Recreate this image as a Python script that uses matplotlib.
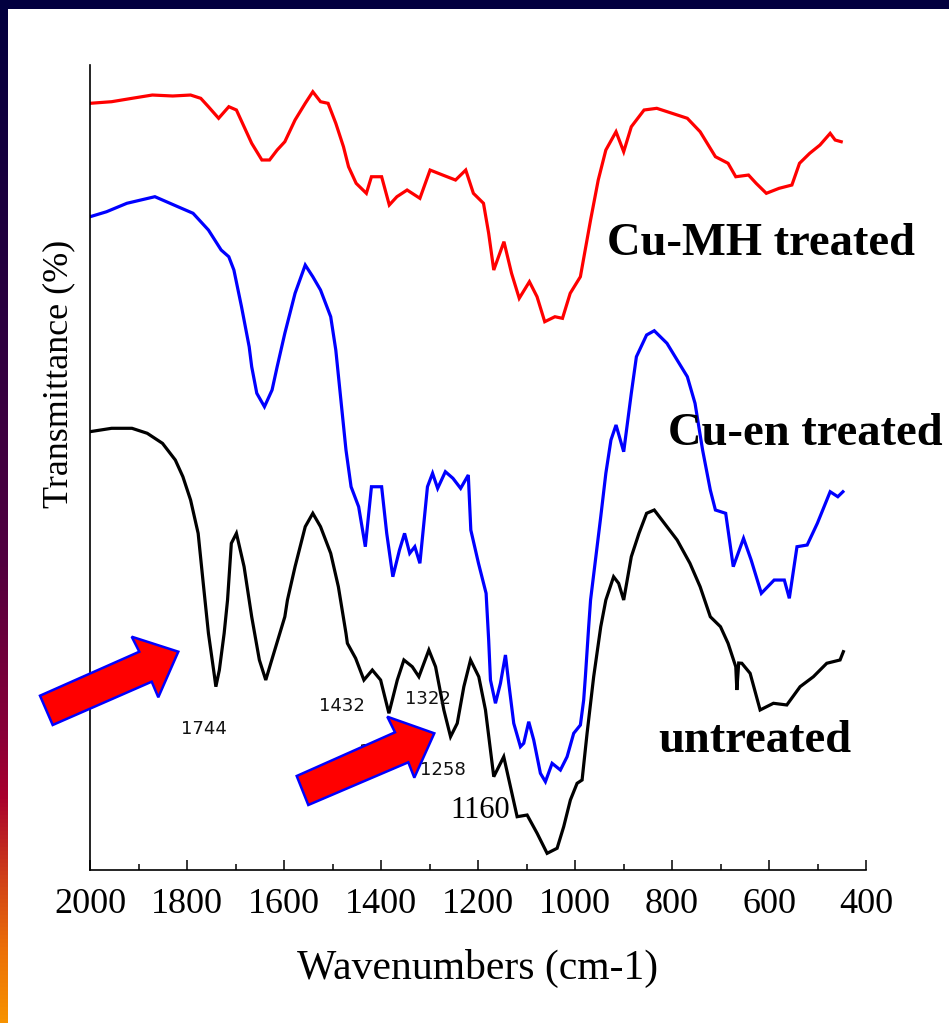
import numpy as np
import matplotlib
matplotlib.use("Agg")
import matplotlib.pyplot as plt
from matplotlib.colors import LinearSegmentedColormap
from matplotlib.patches import Polygon, Rectangle
from matplotlib.transforms import Affine2D

# ---------------- data ----------------
# Cu-MH treated (red)
mh_wn = [2000, 1955.5, 1913.5, 1871.5, 1829.5, 1792.6, 1771.6, 1755.8, 1734.8, 1713.8,
         1698.1, 1682.3, 1666.6, 1645.6, 1629.8, 1614.1, 1598.3, 1577.2, 1556.2, 1540.6,
         1524.7, 1509.1, 1493.2, 1477.4, 1466.9, 1451.2, 1430.2, 1419.7, 1398.7, 1382.9,
         1367.2, 1346.2, 1319.8, 1298.8, 1272.7, 1246.3, 1225.3, 1209.5, 1188.7, 1178.0,
         1167.5, 1146.5, 1130.8, 1115.0, 1094.0, 1078.3, 1062.4, 1041.4, 1025.8, 1009.9,
         988.9, 967.9, 952.1, 936.4, 915.4, 899.6, 883.9, 857.6, 831.4, 799.9,
         768.4, 742.0, 710.5, 684.4, 668.5, 642.2, 626.5, 605.5, 579.2, 552.8,
         537.1, 516.1, 494.9, 473.9, 463.6, 451.1]
mh_t = [95.24, 95.44, 95.86, 96.27, 96.15, 96.27, 95.86, 94.82, 93.38, 94.82,
        94.41, 92.33, 90.27, 88.20, 88.20, 89.44, 90.47, 93.17, 95.24, 96.68,
        95.44, 95.24, 92.76, 89.85, 87.36, 85.30, 84.06, 86.12, 86.12, 82.61,
        83.64, 84.47, 83.44, 86.95, 86.33, 85.71, 86.95, 84.06, 82.82, 79.09,
        74.53, 78.05, 74.12, 71.02, 73.08, 71.22, 68.11, 68.73, 68.53, 71.64,
        73.70, 80.74, 85.71, 89.44, 91.71, 89.23, 92.33, 94.41, 94.62, 94.00,
        93.38, 91.71, 88.61, 87.79, 86.12, 86.33, 85.30, 84.06, 84.68, 85.09,
        87.79, 89.03, 90.06, 91.51, 90.68, 90.47]

# Cu-en treated (blue)
en_wn = [2000, 1966, 1924, 1866.2, 1819, 1787.5, 1755.8, 1729.6, 1713.8, 1703.3,
         1687.6, 1671.8, 1666.6, 1656.1, 1640.3, 1624.6, 1614.1, 1598.3, 1577.2, 1556.2,
         1540.6, 1524.7, 1503.7, 1493.2, 1482.7, 1472.2, 1461.7, 1446.1, 1432.3, 1419.7,
         1398.7, 1388.2, 1375.6, 1361.9, 1351.4, 1340.8, 1330.3, 1319.8, 1304.2, 1293.7,
         1283.2, 1267.3, 1251.7, 1235.8, 1220, 1214.8, 1199, 1183.3, 1178, 1174.3,
         1164, 1153.7, 1143.4, 1136.6, 1126.3, 1112.5, 1105.7, 1095.4, 1085.1, 1071.3,
         1061, 1047.2, 1030.1, 1016.3, 1002.7, 988.9, 982.1, 978.6, 971.8, 967.9,
         946.9, 936.4, 925.9, 915.4, 899.6, 883.9, 873.4, 852.4, 836.6, 810.4,
         789.4, 768.4, 752.5, 736.9, 721, 710.5, 689.3, 673.7, 652.5, 636.8,
         615.8, 589.4, 568.4, 558.1, 542.3, 521.3, 500.3, 473.9, 458.1, 447.6]
en_t = [81.15, 81.77, 82.82, 83.64, 82.40, 81.58, 79.50, 77.02, 76.18, 74.53,
        69.97, 65.00, 62.52, 59.22, 57.55, 59.63, 62.52, 66.67, 71.64, 75.15,
        73.70, 72.05, 68.73, 64.59, 58.38, 52.17, 47.61, 45.13, 40.16, 47.61,
        47.61, 41.82, 36.43, 39.75, 41.82, 39.34, 40.16, 38.10, 47.61, 49.28,
        47.41, 49.48, 48.66, 47.41, 49.07, 42.23, 38.10, 34.37, 28.57, 23.60,
        20.71, 23.19, 26.71, 23.19, 18.22, 15.32, 15.74, 18.42, 16.15, 12.01,
        10.97, 13.25, 12.42, 14.07, 16.98, 18.01, 21.12, 24.01, 30.22, 33.54,
        43.89, 49.28, 53.41, 55.28, 51.96, 59.22, 63.76, 66.46, 66.99, 65.43,
        63.35, 61.28, 57.97, 52.17, 47.20, 44.72, 44.31, 37.68, 41.20, 38.51,
        34.37, 36.02, 36.02, 33.75, 40.16, 40.37, 43.07, 46.99, 46.37, 46.99]

# untreated (black)
un_wn = [2000, 1955.5, 1913.5, 1882, 1850.5, 1824.1, 1808.5, 1792.6, 1777, 1766.5,
         1755.8, 1743.2, 1740.5, 1733.3, 1723.4, 1716.4, 1708.6, 1698.1, 1682.3, 1666.6,
         1650.8, 1637.6, 1627.3, 1598.3, 1592.9, 1577.2, 1556.2, 1540.6, 1524.7, 1503.7,
         1487.9, 1472.2, 1469.3, 1452.3, 1435.2, 1417.9, 1400.8, 1383.7, 1366.4, 1352.8,
         1335.5, 1321.9, 1301.3, 1287.5, 1270.4, 1256.6, 1242.8, 1229.2, 1215.4, 1198.4,
         1184.6, 1167.5, 1146.9, 1133.1, 1119.3, 1098.7, 1078.1, 1057.5, 1036.9, 1023.3,
         1009.5, 995.7, 985.4, 975.1, 961.5, 946.9, 936.4, 920.4, 910, 899.6,
         883.9, 868.1, 852.4, 836.6, 810.4, 789.4, 763, 742.0, 721.0, 700,
         684.4, 668.5, 666.3, 662.5, 656, 638.9, 618.3, 590.9, 563.3, 535.9,
         508.5, 480.9, 453.5, 446.7]
un_t = [54.45, 54.87, 54.87, 54.25, 53.00, 50.93, 48.86, 45.96, 41.82, 35.61,
        29.40, 24.01, 22.77, 24.84, 29.40, 33.54, 40.58, 41.82, 37.68, 31.46,
        26.09, 23.60, 25.68, 31.46, 33.54, 37.68, 42.65, 44.31, 42.65, 39.34,
        35.19, 29.40, 28.16, 26.30, 23.60, 24.84, 23.60, 19.47, 23.60, 26.09,
        25.25, 24.01, 27.33, 25.25, 19.88, 16.56, 18.22, 22.77, 26.09, 24.01,
        19.88, 11.59, 14.07, 10.35, 6.62, 6.83, 4.56, 2.07, 2.70, 5.38,
        8.70, 10.77, 11.18, 16.98, 24.01, 30.22, 33.54, 36.43, 35.61, 33.54,
        38.92, 41.82, 44.31, 44.72, 42.65, 40.99, 38.10, 35.19, 31.46, 30.22,
        28.16, 25.25, 22.36, 25.71, 25.68, 24.43, 19.88, 20.71, 20.50, 22.77,
        24.01, 25.68, 26.09, 27.12]

series_names = ["Cu-MH treated", "Cu-en treated", "untreated"]
series_colors = ["#ff0000", "#0000ff", "#000000"]

x_ticks = [2000, 1800, 1600, 1400, 1200, 1000, 800, 600, 400]
x_tick_labels = [str(v) for v in x_ticks]

peak_labels = ["1744", "1432", "1322", "1258", "1384"]
peak_wn = [1765.3, 1481.1, 1303.0, 1273.1, 1446.1]
peak_t = [16.89, 19.75, 20.62, 11.80, 14.04]

# ---------------- figure ----------------
W, H = 949, 1023
fig = plt.figure(figsize=(W / 100, H / 100), dpi=100)
fig.patch.set_facecolor("white")

# decorative slide frame: navy top band and gradient left band
navy = "#02003f"
fig.patches.append(Rectangle((0, 1 - 9 / H), 1, 9 / H, transform=fig.transFigure,
                             facecolor=navy, edgecolor="none", zorder=0))
grad_cmap = LinearSegmentedColormap.from_list(
    "frame", [(0.0, "#02003f"), (0.30, "#2a0040"), (0.55, "#520040"),
              (0.72, "#8a0038"), (0.78, "#a8002e"), (0.86, "#d04018"),
              (0.93, "#ec7008"), (1.0, "#f79200")])
band = fig.add_axes([0, 0, 8 / W, 1])
band.imshow(np.linspace(0, 1, 256).reshape(-1, 1), aspect="auto", cmap=grad_cmap,
            extent=[0, 1, 1, 0])
band.set_ylim(1, 0)
band.axis("off")

serif = ["Liberation Serif", "DejaVu Serif"]

ax = fig.add_axes([90 / W, 1 - 870 / H, (866 - 90) / W, (870 - 65) / H])
ax.set_facecolor("none")

lw = 2.3
ax.plot(mh_wn, mh_t, color=series_colors[0], lw=lw, solid_joinstyle="miter")
ax.plot(en_wn, en_t, color=series_colors[1], lw=lw, solid_joinstyle="miter")
ax.plot(un_wn, un_t, color=series_colors[2], lw=lw, solid_joinstyle="miter")

ax.set_xlim(2000, 400)
ax.set_ylim(0, 100)

for s in ["top", "right"]:
    ax.spines[s].set_visible(False)
for s in ["left", "bottom"]:
    ax.spines[s].set_linewidth(1.2)

ax.set_xticks(x_ticks)
ax.set_xticklabels(x_tick_labels, fontfamily=serif, fontsize=26)
ax.set_xticks(np.arange(1900, 400, -200), minor=True)
ax.tick_params(axis="x", which="major", direction="in", length=7.5, width=1.1, pad=13)
ax.tick_params(axis="x", which="minor", direction="in", length=4, width=1.1)
ax.set_yticks([])

ax.set_xlabel("Wavenumbers (cm-1)", fontfamily=serif, fontsize=30, labelpad=20)
ax.set_ylabel("Transmittance (%)", fontfamily=serif, fontsize=26)
ax.yaxis.set_label_coords(-15 / 776, (870 - 374) / 805)

# series labels
lab_pos = [(933.3, 76.40), (807.7, 52.79), (828.3, 14.66)]
for name, (xw, yt) in zip(series_names, lab_pos):
    ax.text(xw, yt, name, fontfamily=serif, fontweight="bold", fontsize=33.5,
            ha="left", va="baseline", clip_on=False, zorder=5)

# peak labels
for lab, xw, yt in zip(peak_labels, peak_wn, peak_t):
    ax.text(xw, yt, lab, fontfamily="DejaVu Sans", fontsize=13,
            ha="left" if lab == "1384" else "center", va="baseline",
            color="#111111", zorder=3)
ax.text(1194.9, 6.46, "1160", fontfamily=serif, fontsize=22, ha="center",
        va="baseline", zorder=3)

# block arrows (figure pixel coordinates, y downwards)
to_disp = Affine2D().scale(1, -1).translate(0, H)
arrow1 = [(52.7, 725), (40, 695.7), (139.3, 651.7), (131.7, 636.7), (178.3, 651.7),
          (158.3, 697.3), (151.7, 681.7)]
arrow2 = [(308.3, 805), (296.7, 776), (395, 732.3), (387.3, 716.7), (434.3, 733.3),
          (414.3, 777.7), (408.3, 762.3)]
for pts in (arrow1, arrow2):
    poly = Polygon(pts, closed=True, facecolor="#ff0000", edgecolor="#0000ff",
                   linewidth=1.8, transform=to_disp, zorder=10)
    fig.artists.append(poly)
    poly.set_figure(fig)

fig.savefig("out.png", dpi=100, facecolor="white")
